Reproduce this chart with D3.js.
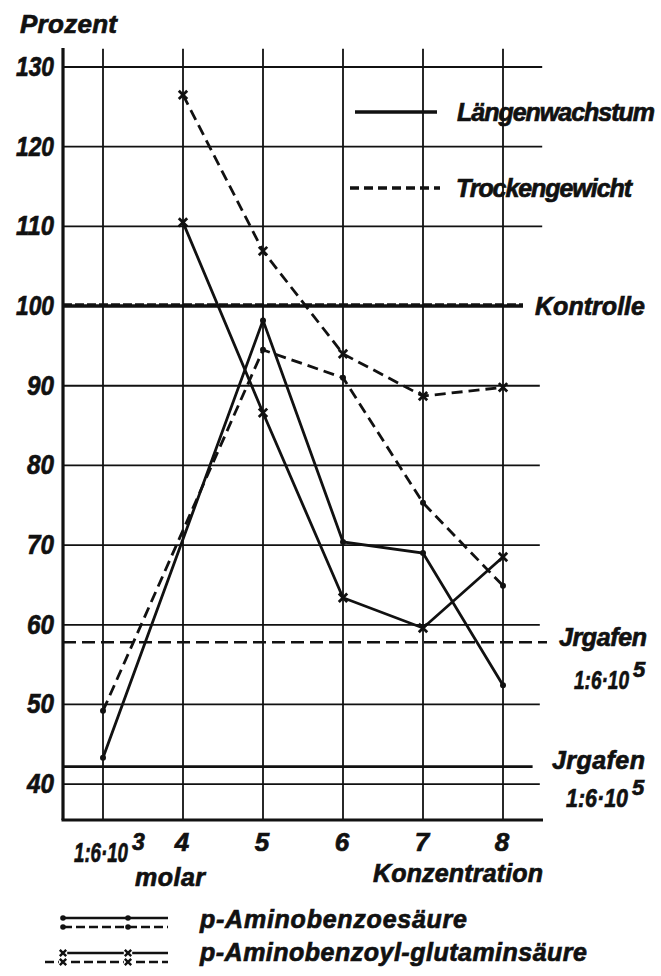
<!DOCTYPE html>
<html>
<head>
<meta charset="utf-8">
<script src="https://cdn.jsdelivr.net/npm/d3@7"></script>
<style>
  html, body { margin: 0; padding: 0; background: #fff; }
  svg text { font-family: "Liberation Sans", Arial, sans-serif; font-weight: bold; font-style: italic;
             fill: #111; stroke: #111; stroke-width: 0.7px; }
</style>
</head>
<body>
<svg id="chart" width="661" height="976"></svg>
<script>
// Konzentration (Exponent der Verdünnung 1:6·10^n)
const xTicks = [3, 4, 5, 6, 7, 8];
const xTickLabels = ["1:6·10", "4", "5", "6", "7", "8"];
const yTicks = [40, 50, 60, 70, 80, 90, 100, 110, 120, 130];

// p-Aminobenzoesäure
const concAB = [3, 5, 6, 7, 8];
const abLaengen = [43.3, 98.2, 70.4, 69.0, 52.4];
const abTrocken = [49.2, 94.5, 91.0, 75.3, 64.9];

// p-Aminobenzoyl-glutaminsäure
const concABG = [4, 5, 6, 7, 8];
const abgLaengen = [110.5, 86.6, 63.4, 59.6, 68.5];
const abgTrocken = [126.5, 106.9, 94.0, 88.7, 89.8];

// Bezugslinien
const kontrolle = 100;
const irgafenTrocken = 57.8;
const irgafenLaengen = 42.2;

const svg = d3.select("#chart");
const x = d3.scaleLinear().domain([2.5, 8.5]).range([63, 543]);
const y = d3.scaleLinear().domain([35.5, 130]).range([820, 67]);

const ink = "#111";

// text helper: position, size and the printed width of the label
function label(sel, str, px, py, size, width, opts = {}) {
  const t = sel.append("text").attr("x", px).attr("y", py).attr("font-size", size).text(str);
  if (width) t.attr("textLength", width).attr("lengthAdjust", opts.squeeze ? "spacingAndGlyphs" : "spacing");
  if (opts.anchor) t.attr("text-anchor", opts.anchor);
  return t;
}

// "1:6·10" narrowed to a given width, followed by a raised exponent
function powerLabel(sel, base, exp, px, py, size, width) {
  const g = sel.append("g").attr("transform", `translate(${px},${py})`);
  const t = g.append("text").attr("font-size", size).text(base);
  const w = t.node().getComputedTextLength();
  t.attr("transform", `scale(${width / w},1)`);
  g.append("text").attr("x", width + 4).attr("y", -12).attr("font-size", size - 4).text(exp);
  return g;
}

// vertical grid
svg.append("g").selectAll("line").data(xTicks).join("line")
  .attr("x1", d => x(d)).attr("x2", d => x(d))
  .attr("y1", y(132.3)).attr("y2", y(35.5))
  .attr("stroke", ink).attr("stroke-width", 1.8);

// horizontal grid
svg.append("g").selectAll("line").data(yTicks.filter(d => d !== 100)).join("line")
  .attr("x1", x(2.5)).attr("x2", d => x(d >= 110 ? 8.49 : 8.46))
  .attr("y1", d => y(d)).attr("y2", d => y(d))
  .attr("stroke", ink).attr("stroke-width", 1.8);

// axes frame
svg.append("line").attr("x1", x(2.5)).attr("x2", x(2.5)).attr("y1", y(132.4)).attr("y2", y(35.5))
  .attr("stroke", ink).attr("stroke-width", 3.2);
svg.append("line").attr("x1", x(2.5) - 1.5).attr("x2", x(8.5)).attr("y1", y(35.5)).attr("y2", y(35.5))
  .attr("stroke", ink).attr("stroke-width", 3.2);

// Kontrolle (both measurements coincide at 100 %)
svg.append("line").attr("x1", x(2.5)).attr("x2", x(8.25)).attr("y1", y(kontrolle)).attr("y2", y(kontrolle))
  .attr("stroke", ink).attr("stroke-width", 3.4);
svg.append("line").attr("x1", x(2.5)).attr("x2", x(8.25)).attr("y1", y(kontrolle) - 1.8).attr("y2", y(kontrolle) - 1.8)
  .attr("stroke", ink).attr("stroke-width", 1.8).attr("stroke-dasharray", "9,3");

// Irgafen references
svg.append("line").attr("x1", x(2.5)).attr("x2", x(8.55)).attr("y1", y(irgafenTrocken)).attr("y2", y(irgafenTrocken))
  .attr("stroke", ink).attr("stroke-width", 2.6).attr("stroke-dasharray", "13,6");
svg.append("line").attr("x1", x(2.5)).attr("x2", x(8.37)).attr("y1", y(irgafenLaengen)).attr("y2", y(irgafenLaengen))
  .attr("stroke", ink).attr("stroke-width", 2.8);

// y axis labels
const yl = svg.append("g");
yTicks.forEach(d => {
  label(yl, String(d), 54, y(d) + 9, 28, d >= 100 ? 38 : 27, { anchor: "end", squeeze: true });
});
label(svg, "Prozent", 20, 33, 26, 97);

// x axis labels
const xl = svg.append("g");
xTicks.forEach((d, i) => {
  if (i === 0) {
    powerLabel(xl, xTickLabels[i], "3", x(d) - 29, 862, 27, 54);
  } else {
    label(xl, xTickLabels[i], x(d) - 1, 851, 26, null, { anchor: "middle" });
  }
});
label(svg, "molar", 135, 886, 25, 70);
label(svg, "Konzentration", 373, 882, 25, 170);

// line generators
const lineAB = d3.line().x((d, i) => x(concAB[i])).y(d => y(d));
const lineABG = d3.line().x((d, i) => x(concABG[i])).y(d => y(d));

const series = [
  { vals: abLaengen, gen: lineAB, conc: concAB, dash: null, mark: "dot" },
  { vals: abTrocken, gen: lineAB, conc: concAB, dash: "11,6", mark: "dot" },
  { vals: abgLaengen, gen: lineABG, conc: concABG, dash: null, mark: "x" },
  { vals: abgTrocken, gen: lineABG, conc: concABG, dash: "11,6", mark: "x" }
];

series.forEach(s => {
  svg.append("path").attr("d", s.gen(s.vals)).attr("fill", "none")
    .attr("stroke", ink).attr("stroke-width", 2.8)
    .attr("stroke-dasharray", s.dash);
  const g = svg.append("g");
  s.vals.forEach((v, i) => {
    const cx = x(s.conc[i]), cy = y(v);
    if (s.mark === "dot") {
      g.append("circle").attr("cx", cx).attr("cy", cy).attr("r", 3).attr("fill", ink);
    } else {
      const r = 4.2;
      g.append("path").attr("d", `M${cx - r},${cy - r}L${cx + r},${cy + r}M${cx - r},${cy + r}L${cx + r},${cy - r}`)
        .attr("stroke", ink).attr("stroke-width", 2.8);
    }
  });
});

// legend (measured quantity)
svg.append("line").attr("x1", 355).attr("x2", 437).attr("y1", 112).attr("y2", 112)
  .attr("stroke", ink).attr("stroke-width", 3.4);
label(svg, "Längenwachstum", 457, 121, 25, 198);
svg.append("line").attr("x1", 350).attr("x2", 440).attr("y1", 188).attr("y2", 188)
  .attr("stroke", ink).attr("stroke-width", 3.4).attr("stroke-dasharray", "9,5");
label(svg, "Trockengewicht", 456, 197, 25, 176);

// reference labels
label(svg, "Kontrolle", 535, 315, 25, 110);

label(svg, "Jrgafen", 559, 646, 25, 88);
powerLabel(svg, "1:6·10", "5", 574, 689, 26, 55);
label(svg, "Jrgafen", 552, 769, 25, 93);
powerLabel(svg, "1:6·10", "5", 566, 807, 26, 62);

// legend (substances)
const lg = svg.append("g");
function legendPair(yy, mark) {
  lg.append("line").attr("x1", 63).attr("x2", 168).attr("y1", yy).attr("y2", yy)
    .attr("stroke", ink).attr("stroke-width", 2.6);
  lg.append("line").attr("x1", mark === "x" ? 45 : 63).attr("x2", 168).attr("y1", yy + 9).attr("y2", yy + 9)
    .attr("stroke", ink).attr("stroke-width", 2.6).attr("stroke-dasharray", "9,4");
  [63, 128].forEach(cx => {
    [yy, yy + 9].forEach(cy => {
      if (mark === "dot") {
        lg.append("circle").attr("cx", cx).attr("cy", cy).attr("r", 2.8).attr("fill", ink);
      } else {
        const r = 3.2;
        lg.append("rect").attr("x", cx - r - 1).attr("y", cy - r - 1).attr("width", 2 * r + 2).attr("height", 2 * r + 2).attr("fill", "#fff");
        lg.append("path").attr("d", `M${cx - r},${cy - r}L${cx + r},${cy + r}M${cx - r},${cy + r}L${cx + r},${cy - r}`)
          .attr("stroke", ink).attr("stroke-width", 2.4);
      }
    });
  });
}
legendPair(918, "dot");
legendPair(953, "x");
label(svg, "p-Aminobenzoesäure", 200, 928, 25, 267);
label(svg, "p-Aminobenzoyl-glutaminsäure", 200, 961, 25, 387);
</script>
</body>
</html>
